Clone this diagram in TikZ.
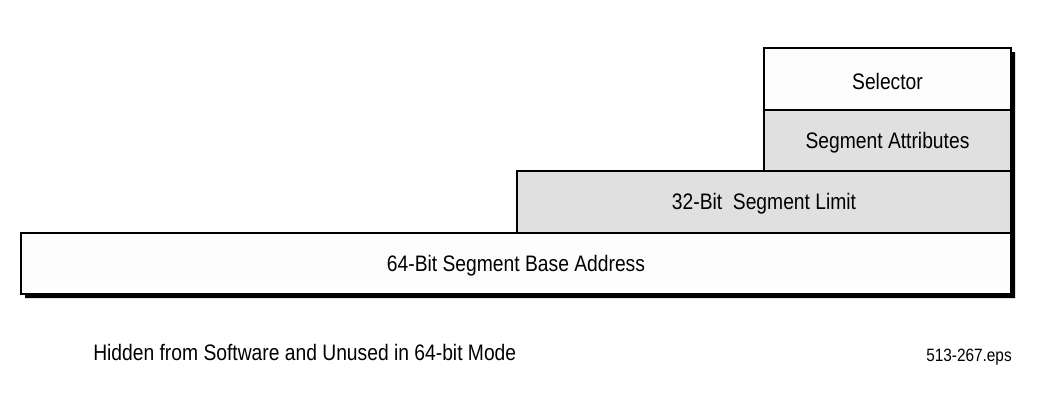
\documentclass[tikz,border=0pt]{standalone}
\usepackage{fontspec}
\setmainfont{Liberation Sans}
\newfontfamily\narrowfont[FakeStretch=0.86]{Liberation Sans}
\definecolor{boxgray}{HTML}{E0E0E0}
\definecolor{boxwhite}{HTML}{FDFDFD}
\newcommand{\lowertext}[1]{\raisebox{-1.5pt}[\height][\depth]{#1}}
\begin{document}
\begin{tikzpicture}[x=0.75pt,y=-0.75pt,
  field/.style={draw=black,line width=1.5pt,inner sep=0pt,outer sep=0pt,font=\narrowfont\fontsize{16.8}{18}\selectfont},
  note/.style={inner sep=0pt,font=\narrowfont\fontsize{16.8}{18}\selectfont},
  small/.style={inner sep=0pt,font=\narrowfont\fontsize{13.4}{15}\selectfont}]
\useasboundingbox (0,0) rectangle (1051,401);
% shadow
\fill[black] (25,237) -- (521,237) -- (521,175) -- (768,175) -- (768,52) -- (1015,52) -- (1015,298) -- (25,298) -- cycle;
% boxes
\node[field,fill=boxwhite,minimum width=990*0.75pt,minimum height=61*0.75pt,anchor=north west] (base) at (21,233) {\lowertext{64-Bit Segment Base Address}};
\node[field,fill=boxgray,minimum width=494*0.75pt,minimum height=62*0.75pt,anchor=north west] (limit) at (517,171) {\lowertext{32-Bit\ \ Segment Limit}};
\node[field,fill=boxgray,minimum width=247*0.75pt,minimum height=61*0.75pt,anchor=north west] (attr) at (764,110) {\lowertext{Segment Attributes}};
\node[field,fill=boxwhite,minimum width=247*0.75pt,minimum height=62*0.75pt,anchor=north west] (sel) at (764,48) {\lowertext{Selector}};
\node[note,anchor=west] (hidden) at (93,352) {Hidden from Software and Unused in 64-bit Mode};
\node[small,anchor=east] (eps) at (1012,357) {513-267.eps};
\end{tikzpicture}
\end{document}
